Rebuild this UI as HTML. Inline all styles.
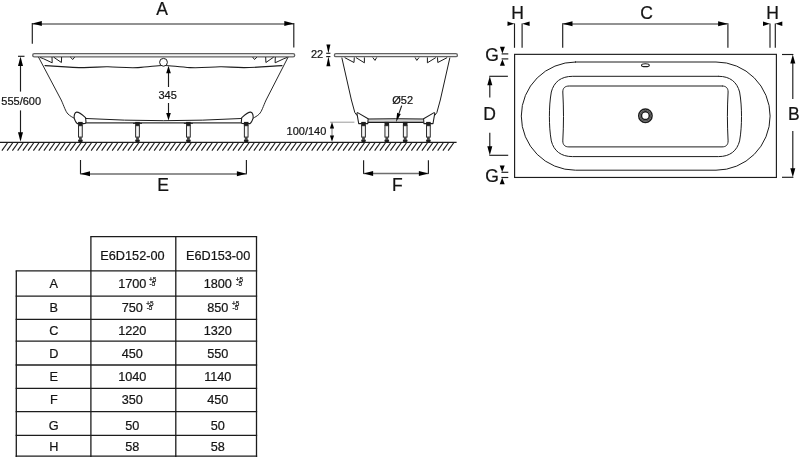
<!DOCTYPE html>
<html lang="en">
<head>
<meta charset="utf-8">
<title>E6D152-00 / E6D153-00</title>
<style>
html,body{margin:0;padding:0;background:#fff;}
body{width:800px;height:457px;overflow:hidden;}
svg{display:block;font-family:"Liberation Sans",sans-serif;fill:#111;}
svg text{fill:#141414;stroke:#141414;stroke-width:0.22px;}
svg{will-change:transform;}
</style>
</head>
<body>
<svg width="800" height="457" viewBox="0 0 800 457">
<rect x="0" y="0" width="800" height="457" fill="#fff"/>
<line x1="0.00" y1="142.35" x2="456.60" y2="142.35" stroke="#1c1c1c" stroke-width="1.2" />
<line x1="7.50" y1="142.75" x2="1.90" y2="150.55" stroke="#1c1c1c" stroke-width="1.15" />
<line x1="12.75" y1="142.75" x2="7.15" y2="150.55" stroke="#1c1c1c" stroke-width="1.15" />
<line x1="18.00" y1="142.75" x2="12.40" y2="150.55" stroke="#1c1c1c" stroke-width="1.15" />
<line x1="23.25" y1="142.75" x2="17.65" y2="150.55" stroke="#1c1c1c" stroke-width="1.15" />
<line x1="28.50" y1="142.75" x2="22.90" y2="150.55" stroke="#1c1c1c" stroke-width="1.15" />
<line x1="33.75" y1="142.75" x2="28.15" y2="150.55" stroke="#1c1c1c" stroke-width="1.15" />
<line x1="39.00" y1="142.75" x2="33.40" y2="150.55" stroke="#1c1c1c" stroke-width="1.15" />
<line x1="44.25" y1="142.75" x2="38.65" y2="150.55" stroke="#1c1c1c" stroke-width="1.15" />
<line x1="49.50" y1="142.75" x2="43.90" y2="150.55" stroke="#1c1c1c" stroke-width="1.15" />
<line x1="54.75" y1="142.75" x2="49.15" y2="150.55" stroke="#1c1c1c" stroke-width="1.15" />
<line x1="60.00" y1="142.75" x2="54.40" y2="150.55" stroke="#1c1c1c" stroke-width="1.15" />
<line x1="65.25" y1="142.75" x2="59.65" y2="150.55" stroke="#1c1c1c" stroke-width="1.15" />
<line x1="70.50" y1="142.75" x2="64.90" y2="150.55" stroke="#1c1c1c" stroke-width="1.15" />
<line x1="75.75" y1="142.75" x2="70.15" y2="150.55" stroke="#1c1c1c" stroke-width="1.15" />
<line x1="81.00" y1="142.75" x2="75.40" y2="150.55" stroke="#1c1c1c" stroke-width="1.15" />
<line x1="86.25" y1="142.75" x2="80.65" y2="150.55" stroke="#1c1c1c" stroke-width="1.15" />
<line x1="91.50" y1="142.75" x2="85.90" y2="150.55" stroke="#1c1c1c" stroke-width="1.15" />
<line x1="96.75" y1="142.75" x2="91.15" y2="150.55" stroke="#1c1c1c" stroke-width="1.15" />
<line x1="102.00" y1="142.75" x2="96.40" y2="150.55" stroke="#1c1c1c" stroke-width="1.15" />
<line x1="107.25" y1="142.75" x2="101.65" y2="150.55" stroke="#1c1c1c" stroke-width="1.15" />
<line x1="112.50" y1="142.75" x2="106.90" y2="150.55" stroke="#1c1c1c" stroke-width="1.15" />
<line x1="117.75" y1="142.75" x2="112.15" y2="150.55" stroke="#1c1c1c" stroke-width="1.15" />
<line x1="123.00" y1="142.75" x2="117.40" y2="150.55" stroke="#1c1c1c" stroke-width="1.15" />
<line x1="128.25" y1="142.75" x2="122.65" y2="150.55" stroke="#1c1c1c" stroke-width="1.15" />
<line x1="133.50" y1="142.75" x2="127.90" y2="150.55" stroke="#1c1c1c" stroke-width="1.15" />
<line x1="138.75" y1="142.75" x2="133.15" y2="150.55" stroke="#1c1c1c" stroke-width="1.15" />
<line x1="144.00" y1="142.75" x2="138.40" y2="150.55" stroke="#1c1c1c" stroke-width="1.15" />
<line x1="149.25" y1="142.75" x2="143.65" y2="150.55" stroke="#1c1c1c" stroke-width="1.15" />
<line x1="154.50" y1="142.75" x2="148.90" y2="150.55" stroke="#1c1c1c" stroke-width="1.15" />
<line x1="159.75" y1="142.75" x2="154.15" y2="150.55" stroke="#1c1c1c" stroke-width="1.15" />
<line x1="165.00" y1="142.75" x2="159.40" y2="150.55" stroke="#1c1c1c" stroke-width="1.15" />
<line x1="170.25" y1="142.75" x2="164.65" y2="150.55" stroke="#1c1c1c" stroke-width="1.15" />
<line x1="175.50" y1="142.75" x2="169.90" y2="150.55" stroke="#1c1c1c" stroke-width="1.15" />
<line x1="180.75" y1="142.75" x2="175.15" y2="150.55" stroke="#1c1c1c" stroke-width="1.15" />
<line x1="186.00" y1="142.75" x2="180.40" y2="150.55" stroke="#1c1c1c" stroke-width="1.15" />
<line x1="191.25" y1="142.75" x2="185.65" y2="150.55" stroke="#1c1c1c" stroke-width="1.15" />
<line x1="196.50" y1="142.75" x2="190.90" y2="150.55" stroke="#1c1c1c" stroke-width="1.15" />
<line x1="201.75" y1="142.75" x2="196.15" y2="150.55" stroke="#1c1c1c" stroke-width="1.15" />
<line x1="207.00" y1="142.75" x2="201.40" y2="150.55" stroke="#1c1c1c" stroke-width="1.15" />
<line x1="212.25" y1="142.75" x2="206.65" y2="150.55" stroke="#1c1c1c" stroke-width="1.15" />
<line x1="217.50" y1="142.75" x2="211.90" y2="150.55" stroke="#1c1c1c" stroke-width="1.15" />
<line x1="222.75" y1="142.75" x2="217.15" y2="150.55" stroke="#1c1c1c" stroke-width="1.15" />
<line x1="228.00" y1="142.75" x2="222.40" y2="150.55" stroke="#1c1c1c" stroke-width="1.15" />
<line x1="233.25" y1="142.75" x2="227.65" y2="150.55" stroke="#1c1c1c" stroke-width="1.15" />
<line x1="238.50" y1="142.75" x2="232.90" y2="150.55" stroke="#1c1c1c" stroke-width="1.15" />
<line x1="243.75" y1="142.75" x2="238.15" y2="150.55" stroke="#1c1c1c" stroke-width="1.15" />
<line x1="249.00" y1="142.75" x2="243.40" y2="150.55" stroke="#1c1c1c" stroke-width="1.15" />
<line x1="254.25" y1="142.75" x2="248.65" y2="150.55" stroke="#1c1c1c" stroke-width="1.15" />
<line x1="259.50" y1="142.75" x2="253.90" y2="150.55" stroke="#1c1c1c" stroke-width="1.15" />
<line x1="264.75" y1="142.75" x2="259.15" y2="150.55" stroke="#1c1c1c" stroke-width="1.15" />
<line x1="270.00" y1="142.75" x2="264.40" y2="150.55" stroke="#1c1c1c" stroke-width="1.15" />
<line x1="275.25" y1="142.75" x2="269.65" y2="150.55" stroke="#1c1c1c" stroke-width="1.15" />
<line x1="280.50" y1="142.75" x2="274.90" y2="150.55" stroke="#1c1c1c" stroke-width="1.15" />
<line x1="285.75" y1="142.75" x2="280.15" y2="150.55" stroke="#1c1c1c" stroke-width="1.15" />
<line x1="291.00" y1="142.75" x2="285.40" y2="150.55" stroke="#1c1c1c" stroke-width="1.15" />
<line x1="296.25" y1="142.75" x2="290.65" y2="150.55" stroke="#1c1c1c" stroke-width="1.15" />
<line x1="301.50" y1="142.75" x2="295.90" y2="150.55" stroke="#1c1c1c" stroke-width="1.15" />
<line x1="306.75" y1="142.75" x2="301.15" y2="150.55" stroke="#1c1c1c" stroke-width="1.15" />
<line x1="312.00" y1="142.75" x2="306.40" y2="150.55" stroke="#1c1c1c" stroke-width="1.15" />
<line x1="317.25" y1="142.75" x2="311.65" y2="150.55" stroke="#1c1c1c" stroke-width="1.15" />
<line x1="322.50" y1="142.75" x2="316.90" y2="150.55" stroke="#1c1c1c" stroke-width="1.15" />
<line x1="327.75" y1="142.75" x2="322.15" y2="150.55" stroke="#1c1c1c" stroke-width="1.15" />
<line x1="333.00" y1="142.75" x2="327.40" y2="150.55" stroke="#1c1c1c" stroke-width="1.15" />
<line x1="338.25" y1="142.75" x2="332.65" y2="150.55" stroke="#1c1c1c" stroke-width="1.15" />
<line x1="343.50" y1="142.75" x2="337.90" y2="150.55" stroke="#1c1c1c" stroke-width="1.15" />
<line x1="348.75" y1="142.75" x2="343.15" y2="150.55" stroke="#1c1c1c" stroke-width="1.15" />
<line x1="354.00" y1="142.75" x2="348.40" y2="150.55" stroke="#1c1c1c" stroke-width="1.15" />
<line x1="359.25" y1="142.75" x2="353.65" y2="150.55" stroke="#1c1c1c" stroke-width="1.15" />
<line x1="364.50" y1="142.75" x2="358.90" y2="150.55" stroke="#1c1c1c" stroke-width="1.15" />
<line x1="369.75" y1="142.75" x2="364.15" y2="150.55" stroke="#1c1c1c" stroke-width="1.15" />
<line x1="375.00" y1="142.75" x2="369.40" y2="150.55" stroke="#1c1c1c" stroke-width="1.15" />
<line x1="380.25" y1="142.75" x2="374.65" y2="150.55" stroke="#1c1c1c" stroke-width="1.15" />
<line x1="385.50" y1="142.75" x2="379.90" y2="150.55" stroke="#1c1c1c" stroke-width="1.15" />
<line x1="390.75" y1="142.75" x2="385.15" y2="150.55" stroke="#1c1c1c" stroke-width="1.15" />
<line x1="396.00" y1="142.75" x2="390.40" y2="150.55" stroke="#1c1c1c" stroke-width="1.15" />
<line x1="401.25" y1="142.75" x2="395.65" y2="150.55" stroke="#1c1c1c" stroke-width="1.15" />
<line x1="406.50" y1="142.75" x2="400.90" y2="150.55" stroke="#1c1c1c" stroke-width="1.15" />
<line x1="411.75" y1="142.75" x2="406.15" y2="150.55" stroke="#1c1c1c" stroke-width="1.15" />
<line x1="417.00" y1="142.75" x2="411.40" y2="150.55" stroke="#1c1c1c" stroke-width="1.15" />
<line x1="422.25" y1="142.75" x2="416.65" y2="150.55" stroke="#1c1c1c" stroke-width="1.15" />
<line x1="427.50" y1="142.75" x2="421.90" y2="150.55" stroke="#1c1c1c" stroke-width="1.15" />
<line x1="432.75" y1="142.75" x2="427.15" y2="150.55" stroke="#1c1c1c" stroke-width="1.15" />
<line x1="438.00" y1="142.75" x2="432.40" y2="150.55" stroke="#1c1c1c" stroke-width="1.15" />
<line x1="443.25" y1="142.75" x2="437.65" y2="150.55" stroke="#1c1c1c" stroke-width="1.15" />
<line x1="448.50" y1="142.75" x2="442.90" y2="150.55" stroke="#1c1c1c" stroke-width="1.15" />
<line x1="453.75" y1="142.75" x2="448.15" y2="150.55" stroke="#1c1c1c" stroke-width="1.15" />
<line x1="32.30" y1="23.90" x2="293.80" y2="23.90" stroke="#6e6e6e" stroke-width="1.5" />
<line x1="32.30" y1="23.00" x2="32.30" y2="43.80" stroke="#1c1c1c" stroke-width="1.15" />
<line x1="293.80" y1="23.00" x2="293.80" y2="47.40" stroke="#1c1c1c" stroke-width="1.15" />
<polygon points="32.30,23.50 41.80,21.00 41.80,26.00" fill="#000"/>
<polygon points="293.80,23.50 284.30,26.00 284.30,21.00" fill="#000"/>
<text x="162.10" y="15.00" font-size="17.5" text-anchor="middle" >A</text>
<rect x="32.7" y="53.6" width="262.0" height="3.2" rx="1.6" ry="1.6" fill="#f3f3f3" stroke="#636363" stroke-width="1.35"/>
<path d="M40.5 57.6 L43.4 58.7 L52.2 62.8 L52 57.4 M54 57.4 L61.4 62.5 L61.6 57.4 M70.6 57.4 L72.8 59.5 L74.4 57.4" stroke="#1c1c1c" stroke-width="1.0" fill="none" stroke-linejoin="round" stroke-linecap="round" />
<path d="M286.8 57.6 L283.9 58.7 L275.1 62.8 L275.3 57.4 M273.3 57.4 L265.9 62.5 L265.7 57.4 M256.7 57.4 L254.5 59.5 L252.9 57.4" stroke="#1c1c1c" stroke-width="1.0" fill="none" stroke-linejoin="round" stroke-linecap="round" />
<path d="M38.6 57.3 L61.2 100 C64 106 65.5 111.5 68 114 C70 116 72.5 117.3 74.2 118.2" stroke="#1c1c1c" stroke-width="0.95" fill="none" stroke-linejoin="round" stroke-linecap="round" />
<path d="M288.0 57.3 L266.1 100 C263.3 106 261.8 111.5 259.3 114 C257.3 116 254.8 117.3 253.1 118.2" stroke="#1c1c1c" stroke-width="0.95" fill="none" stroke-linejoin="round" stroke-linecap="round" />
<path d="M74.2 118.2 C73.9 115.5 74.6 112.3 76.6 112.1 C79.3 111.9 82.6 115 85.6 117.7 L86 122.2 C86 123.3 85 123.6 83.6 123.6 L77.2 123.6 C76 123 75 120.8 74.2 118.2 Z" stroke="#1c1c1c" stroke-width="1.1" fill="#fff" stroke-linejoin="round" stroke-linecap="round" />
<path d="M253.1 118.2 C253.4 115.5 252.7 112.3 250.7 112.1 C248 111.9 244.7 115 241.7 117.7 L241.3 122.2 C241.3 123.3 242.3 123.6 243.7 123.6 L250.1 123.6 C251.3 123 252.3 120.8 253.1 118.2 Z" stroke="#1c1c1c" stroke-width="1.1" fill="#fff" stroke-linejoin="round" stroke-linecap="round" />
<path d="M85.8 118.5 Q163.65 122.9 241.5 118.5" stroke="#1c1c1c" stroke-width="1.0" fill="none" stroke-linejoin="round" stroke-linecap="round" />
<line x1="85.50" y1="122.90" x2="241.80" y2="122.90" stroke="#333" stroke-width="1.3" />
<path d="M45 65.6 C55 66 70 67.6 84 67.6 C95 67.6 100 66.6 108 66.8 C118 67 128 68.2 138 67.6 C148 67 156 65.6 163.6 65.2 C171 65.6 180 67 190 67.6 C200 68.2 210 67 220 66.8 C228 66.6 233 67.6 244 67.6 C258 67.6 272 66 282 65.6" stroke="#1c1c1c" stroke-width="1.1" fill="none" stroke-linejoin="round" stroke-linecap="round" />
<circle cx="163.5" cy="62.3" r="3.9" fill="#fff" stroke="#1c1c1c" stroke-width="1.0"/>
<line x1="168.50" y1="70.00" x2="168.50" y2="87.00" stroke="#1c1c1c" stroke-width="1.15" />
<line x1="168.50" y1="103.00" x2="168.50" y2="116.00" stroke="#1c1c1c" stroke-width="1.15" />
<polygon points="168.50,65.80 170.80,73.30 166.20,73.30" fill="#000"/>
<polygon points="168.50,120.60 166.20,113.10 170.80,113.10" fill="#000"/>
<text x="167.60" y="98.90" font-size="11" text-anchor="middle" >345</text>
<line x1="18.00" y1="56.30" x2="24.50" y2="56.30" stroke="#1c1c1c" stroke-width="1.15" />
<line x1="20.50" y1="60.00" x2="20.50" y2="91.60" stroke="#1c1c1c" stroke-width="1.15" />
<line x1="20.50" y1="110.40" x2="20.50" y2="136.00" stroke="#1c1c1c" stroke-width="1.15" />
<polygon points="20.50,56.60 23.00,66.10 18.00,66.10" fill="#000"/>
<polygon points="20.50,141.80 18.00,132.30 23.00,132.30" fill="#000"/>
<text x="21.20" y="105.20" font-size="11" text-anchor="middle" >555/600</text>
<rect x="78.10" y="121.90" width="4.6" height="4.0" fill="#1e1e1e"/>
<rect x="78.55" y="125.70" width="3.7" height="11.4" fill="#f6f6f6" stroke="#1e1e1e" stroke-width="0.95"/>
<rect x="79.00" y="137.10" width="2.8" height="2.6" fill="#444"/>
<rect x="78.10" y="139.40" width="4.6" height="2.5" rx="0.9" fill="#1e1e1e"/>
<rect x="135.20" y="121.90" width="4.6" height="4.0" fill="#1e1e1e"/>
<rect x="135.65" y="125.70" width="3.7" height="11.4" fill="#f6f6f6" stroke="#1e1e1e" stroke-width="0.95"/>
<rect x="136.10" y="137.10" width="2.8" height="2.6" fill="#444"/>
<rect x="135.20" y="139.40" width="4.6" height="2.5" rx="0.9" fill="#1e1e1e"/>
<rect x="186.10" y="121.90" width="4.6" height="4.0" fill="#1e1e1e"/>
<rect x="186.55" y="125.70" width="3.7" height="11.4" fill="#f6f6f6" stroke="#1e1e1e" stroke-width="0.95"/>
<rect x="187.00" y="137.10" width="2.8" height="2.6" fill="#444"/>
<rect x="186.10" y="139.40" width="4.6" height="2.5" rx="0.9" fill="#1e1e1e"/>
<rect x="243.90" y="121.90" width="4.6" height="4.0" fill="#1e1e1e"/>
<rect x="244.35" y="125.70" width="3.7" height="11.4" fill="#f6f6f6" stroke="#1e1e1e" stroke-width="0.95"/>
<rect x="244.80" y="137.10" width="2.8" height="2.6" fill="#444"/>
<rect x="243.90" y="139.40" width="4.6" height="2.5" rx="0.9" fill="#1e1e1e"/>
<line x1="133.00" y1="123.40" x2="142.00" y2="123.40" stroke="#1c1c1c" stroke-width="0.9" />
<line x1="183.90" y1="123.40" x2="192.90" y2="123.40" stroke="#1c1c1c" stroke-width="0.9" />
<line x1="80.50" y1="160.00" x2="80.50" y2="174.20" stroke="#1c1c1c" stroke-width="1.15" />
<line x1="246.40" y1="160.00" x2="246.40" y2="174.20" stroke="#1c1c1c" stroke-width="1.15" />
<line x1="80.50" y1="173.90" x2="246.40" y2="173.90" stroke="#6e6e6e" stroke-width="1.5" />
<polygon points="80.50,173.70 90.00,171.20 90.00,176.20" fill="#000"/>
<polygon points="246.40,173.70 236.90,176.20 236.90,171.20" fill="#000"/>
<text x="163.00" y="190.60" font-size="17.5" text-anchor="middle" >E</text>
<text x="311.00" y="58.40" font-size="11" text-anchor="start" >22</text>
<line x1="326.20" y1="53.30" x2="330.40" y2="53.30" stroke="#1c1c1c" stroke-width="1.15" />
<line x1="326.20" y1="56.60" x2="330.40" y2="56.60" stroke="#1c1c1c" stroke-width="1.15" />
<polygon points="328.40,53.30 326.40,44.40 330.40,44.40" fill="#000"/>
<polygon points="328.40,56.60 330.40,66.20 326.40,66.20" fill="#000"/>
<rect x="334.4" y="53.6" width="123.0" height="3.1" rx="1.55" ry="1.55" fill="#f3f3f3" stroke="#636363" stroke-width="1.35"/>
<path d="M345 57.8 L354 62.5 L354.3 57.8 M356.3 57.8 L364.4 62.8 L364.4 57.8 M373 57.8 L375 60.4 L376.5 57.8" stroke="#1c1c1c" stroke-width="1.0" fill="none" stroke-linejoin="round" stroke-linecap="round" />
<path d="M446.8 57.8 L437.8 62.5 L437.5 57.8 M435.5 57.8 L427.4 62.8 L427.4 57.8 M418.8 57.8 L416.8 60.4 L415.3 57.8" stroke="#1c1c1c" stroke-width="1.0" fill="none" stroke-linejoin="round" stroke-linecap="round" />
<path d="M341.9 58 L351.4 100 L354.85 112.6 L356.9 115.3" stroke="#1c1c1c" stroke-width="1.0" fill="none" stroke-linejoin="round" stroke-linecap="round" />
<path d="M449.8 58 L440.3 100 L436.85 112.6 L434.8 115.3" stroke="#1c1c1c" stroke-width="1.0" fill="none" stroke-linejoin="round" stroke-linecap="round" />
<rect x="368.1" y="119.1" width="55.5" height="3.2" fill="#d2d2d2"/>
<path d="M368.1 119.0 Q395.85 118.4 423.6 119.0" stroke="#1c1c1c" stroke-width="1.0" fill="none" stroke-linejoin="round" stroke-linecap="round" />
<line x1="367.90" y1="122.40" x2="423.80" y2="122.40" stroke="#1c1c1c" stroke-width="1.3" />
<path d="M356.9 113.1 L357.6 112.6 L368.1 118.7 L367.8 123.6 L358.7 123.6 Z" stroke="#1c1c1c" stroke-width="1.05" fill="#fff" stroke-linejoin="round" stroke-linecap="round" />
<path d="M434.8 113.1 L434.1 112.6 L423.6 118.7 L423.9 123.6 L433.0 123.6 Z" stroke="#1c1c1c" stroke-width="1.05" fill="#fff" stroke-linejoin="round" stroke-linecap="round" />
<rect x="361.20" y="121.90" width="4.6" height="4.0" fill="#1e1e1e"/>
<rect x="361.65" y="125.70" width="3.7" height="11.4" fill="#f6f6f6" stroke="#1e1e1e" stroke-width="0.95"/>
<rect x="362.10" y="137.10" width="2.8" height="2.6" fill="#444"/>
<rect x="361.20" y="139.40" width="4.6" height="2.5" rx="0.9" fill="#1e1e1e"/>
<rect x="384.50" y="121.90" width="4.6" height="4.0" fill="#1e1e1e"/>
<rect x="384.95" y="125.70" width="3.7" height="11.4" fill="#f6f6f6" stroke="#1e1e1e" stroke-width="0.95"/>
<rect x="385.40" y="137.10" width="2.8" height="2.6" fill="#444"/>
<rect x="384.50" y="139.40" width="4.6" height="2.5" rx="0.9" fill="#1e1e1e"/>
<rect x="402.90" y="121.90" width="4.6" height="4.0" fill="#1e1e1e"/>
<rect x="403.35" y="125.70" width="3.7" height="11.4" fill="#f6f6f6" stroke="#1e1e1e" stroke-width="0.95"/>
<rect x="403.80" y="137.10" width="2.8" height="2.6" fill="#444"/>
<rect x="402.90" y="139.40" width="4.6" height="2.5" rx="0.9" fill="#1e1e1e"/>
<rect x="426.10" y="121.90" width="4.6" height="4.0" fill="#1e1e1e"/>
<rect x="426.55" y="125.70" width="3.7" height="11.4" fill="#f6f6f6" stroke="#1e1e1e" stroke-width="0.95"/>
<rect x="427.00" y="137.10" width="2.8" height="2.6" fill="#444"/>
<rect x="426.10" y="139.40" width="4.6" height="2.5" rx="0.9" fill="#1e1e1e"/>
<text x="392.30" y="104.40" font-size="11" text-anchor="start" >Ø52</text>
<line x1="401.70" y1="105.60" x2="399.00" y2="113.40" stroke="#1c1c1c" stroke-width="1.15" />
<polygon points="396.10,121.90 397.14,112.76 400.75,113.96" fill="#000"/>
<text x="286.60" y="134.80" font-size="11" text-anchor="start" >100/140</text>
<line x1="330.00" y1="122.20" x2="354.40" y2="122.20" stroke="#9a9a9a" stroke-width="1.0" />
<line x1="332.00" y1="126.00" x2="332.00" y2="138.00" stroke="#777" stroke-width="1.0" />
<polygon points="332.00,122.00 334.10,128.60 329.90,128.60" fill="#000"/>
<polygon points="332.00,141.80 329.90,135.60 334.10,135.60" fill="#000"/>
<line x1="363.60" y1="160.30" x2="363.60" y2="174.00" stroke="#1c1c1c" stroke-width="1.15" />
<line x1="428.40" y1="160.30" x2="428.40" y2="174.00" stroke="#1c1c1c" stroke-width="1.15" />
<line x1="363.60" y1="173.60" x2="428.40" y2="173.60" stroke="#6e6e6e" stroke-width="1.5" />
<polygon points="363.60,173.40 373.10,170.90 373.10,175.90" fill="#000"/>
<polygon points="428.40,173.40 418.90,175.90 418.90,170.90" fill="#000"/>
<text x="397.30" y="190.60" font-size="17.5" text-anchor="middle" >F</text>
<rect x="514.6" y="54.35" width="261.8" height="123.1" fill="none" stroke="#1c1c1c" stroke-width="1.15"/>
<path d="M575.4 62 L716 62 A54.1 54.1 0 0 1 716 170.2 L575.4 170.2 A54.1 54.1 0 0 1 575.4 62 Z" stroke="#1c1c1c" stroke-width="1.0" fill="none" stroke-linejoin="round" stroke-linecap="round" />
<path d="M718.50 76.30 L718.50 76.30 C730.00 76.30 737.00 82.00 739.60 92.00 C741.00 100.00 741.50 108.00 741.50 116.45 L741.50 116.45 C741.50 124.90 741.00 132.90 739.60 140.90 C737.00 150.90 730.00 156.60 718.50 156.60 L572.40 156.60 C560.90 156.60 553.90 150.90 551.30 140.90 C549.90 132.90 549.40 124.90 549.40 116.45 L549.40 116.45 C549.40 108.00 549.90 100.00 551.30 92.00 C553.90 82.00 560.90 76.30 572.40 76.30 Z" stroke="#1c1c1c" stroke-width="1.0" fill="none" stroke-linejoin="round" stroke-linecap="round" />
<path d="M722.00 86.00 L722.00 86.00 C726.00 86.00 728.10 88.00 728.10 92.00 C727.70 100.00 727.40 108.00 727.40 116.45 L727.40 116.45 C727.40 124.90 727.70 132.90 728.10 140.90 C728.10 144.90 726.00 146.90 722.00 146.90 L568.90 146.90 C564.90 146.90 562.80 144.90 562.80 140.90 C563.20 132.90 563.50 124.90 563.50 116.45 L563.50 116.45 C563.50 108.00 563.20 100.00 562.80 92.00 C562.80 88.00 564.90 86.00 568.90 86.00 Z" stroke="#1c1c1c" stroke-width="1.0" fill="none" stroke-linejoin="round" stroke-linecap="round" />
<ellipse cx="645.4" cy="65.2" rx="3.9" ry="1.45" fill="#fff" stroke="#1c1c1c" stroke-width="1.1"/>
<circle cx="645.4" cy="115.7" r="6.7" fill="#ddd" stroke="#1c1c1c" stroke-width="1.5"/>
<circle cx="645.4" cy="115.7" r="5.3" fill="none" stroke="#555" stroke-width="1.3"/>
<circle cx="645.4" cy="115.7" r="3.9" fill="#fff" stroke="#1c1c1c" stroke-width="1.5"/>
<line x1="562.70" y1="23.20" x2="562.70" y2="47.80" stroke="#1c1c1c" stroke-width="1.15" />
<line x1="727.90" y1="23.20" x2="727.90" y2="47.80" stroke="#1c1c1c" stroke-width="1.15" />
<line x1="562.70" y1="24.10" x2="727.90" y2="24.10" stroke="#6e6e6e" stroke-width="1.5" />
<polygon points="562.70,23.70 572.50,21.20 572.50,26.20" fill="#000"/>
<polygon points="727.90,23.70 718.10,26.20 718.10,21.20" fill="#000"/>
<text x="646.50" y="18.80" font-size="17.5" text-anchor="middle" >C</text>
<line x1="514.50" y1="23.40" x2="514.50" y2="47.80" stroke="#1c1c1c" stroke-width="1.15" />
<line x1="522.10" y1="23.40" x2="522.10" y2="47.80" stroke="#1c1c1c" stroke-width="1.15" />
<polygon points="514.50,23.70 507.50,25.90 507.50,21.50" fill="#000"/>
<polygon points="522.10,23.70 529.60,21.50 529.60,25.90" fill="#000"/>
<text x="517.50" y="18.50" font-size="17.5" text-anchor="middle" >H</text>
<line x1="770.00" y1="23.40" x2="770.00" y2="47.80" stroke="#1c1c1c" stroke-width="1.15" />
<line x1="775.30" y1="23.40" x2="775.30" y2="47.80" stroke="#1c1c1c" stroke-width="1.15" />
<polygon points="770.00,23.70 763.00,25.90 763.00,21.50" fill="#000"/>
<polygon points="775.30,23.70 782.30,21.50 782.30,25.90" fill="#000"/>
<text x="772.50" y="18.50" font-size="17.5" text-anchor="middle" >H</text>
<text x="485.20" y="60.80" font-size="17.5" text-anchor="start" >G</text>
<line x1="501.60" y1="53.90" x2="508.30" y2="53.90" stroke="#1c1c1c" stroke-width="1.15" />
<line x1="501.60" y1="58.90" x2="508.30" y2="58.90" stroke="#1c1c1c" stroke-width="1.15" />
<polygon points="502.40,53.60 499.90,46.80 504.90,46.80" fill="#000"/>
<polygon points="502.40,59.20 504.90,65.70 499.90,65.70" fill="#000"/>
<text x="485.20" y="182.30" font-size="17.5" text-anchor="start" >G</text>
<line x1="501.40" y1="172.30" x2="508.30" y2="172.30" stroke="#1c1c1c" stroke-width="1.15" />
<line x1="501.40" y1="177.50" x2="508.30" y2="177.50" stroke="#1c1c1c" stroke-width="1.15" />
<polygon points="502.20,172.00 499.70,165.40 504.70,165.40" fill="#000"/>
<polygon points="502.20,177.80 504.70,184.30 499.70,184.30" fill="#000"/>
<line x1="489.30" y1="76.30" x2="507.90" y2="76.30" stroke="#1c1c1c" stroke-width="1.15" />
<line x1="489.30" y1="155.30" x2="508.20" y2="155.30" stroke="#1c1c1c" stroke-width="1.15" />
<line x1="489.80" y1="80.00" x2="489.80" y2="97.40" stroke="#1c1c1c" stroke-width="1.15" />
<line x1="489.80" y1="132.80" x2="489.80" y2="150.00" stroke="#1c1c1c" stroke-width="1.15" />
<polygon points="489.80,76.30 492.30,85.30 487.30,85.30" fill="#000"/>
<polygon points="489.80,155.30 487.30,146.30 492.30,146.30" fill="#000"/>
<text x="489.60" y="120.30" font-size="17.5" text-anchor="middle" >D</text>
<line x1="782.00" y1="54.50" x2="793.40" y2="54.50" stroke="#1c1c1c" stroke-width="1.15" />
<line x1="782.00" y1="177.30" x2="793.40" y2="177.30" stroke="#1c1c1c" stroke-width="1.15" />
<line x1="792.80" y1="60.00" x2="792.80" y2="99.00" stroke="#1c1c1c" stroke-width="1.15" />
<line x1="792.80" y1="131.00" x2="792.80" y2="172.00" stroke="#1c1c1c" stroke-width="1.15" />
<polygon points="792.80,54.50 795.30,63.50 790.30,63.50" fill="#000"/>
<polygon points="792.80,177.30 790.30,168.30 795.30,168.30" fill="#000"/>
<text x="793.80" y="119.80" font-size="17.5" text-anchor="middle" >B</text>
<line x1="90.25" y1="236.70" x2="257.15" y2="236.70" stroke="#1c1c1c" stroke-width="1.3" />
<line x1="15.65" y1="270.85" x2="257.15" y2="270.85" stroke="#1c1c1c" stroke-width="1.3" />
<line x1="15.65" y1="296.15" x2="257.15" y2="296.15" stroke="#1c1c1c" stroke-width="1.3" />
<line x1="15.65" y1="319.30" x2="257.15" y2="319.30" stroke="#1c1c1c" stroke-width="1.3" />
<line x1="15.65" y1="341.05" x2="257.15" y2="341.05" stroke="#1c1c1c" stroke-width="1.3" />
<line x1="15.65" y1="365.00" x2="257.15" y2="365.00" stroke="#1c1c1c" stroke-width="1.3" />
<line x1="15.65" y1="388.40" x2="257.15" y2="388.40" stroke="#1c1c1c" stroke-width="1.3" />
<line x1="15.65" y1="411.60" x2="257.15" y2="411.60" stroke="#1c1c1c" stroke-width="1.3" />
<line x1="15.65" y1="435.30" x2="257.15" y2="435.30" stroke="#1c1c1c" stroke-width="1.3" />
<line x1="15.65" y1="456.20" x2="257.15" y2="456.20" stroke="#1c1c1c" stroke-width="1.3" />
<line x1="16.30" y1="270.85" x2="16.30" y2="457.00" stroke="#1c1c1c" stroke-width="1.3" />
<line x1="90.90" y1="236.70" x2="90.90" y2="457.00" stroke="#1c1c1c" stroke-width="1.3" />
<line x1="175.80" y1="236.70" x2="175.80" y2="457.00" stroke="#1c1c1c" stroke-width="1.3" />
<line x1="256.50" y1="236.70" x2="256.50" y2="457.00" stroke="#1c1c1c" stroke-width="1.3" />
<text x="132.45" y="259.50" font-size="12.7" text-anchor="middle" >E6D152-00</text>
<text x="218.10" y="259.50" font-size="12.7" text-anchor="middle" >E6D153-00</text>
<text x="53.80" y="288.20" font-size="12.7" text-anchor="middle" >A</text>
<text x="132.30" y="288.20" font-size="12.7" text-anchor="middle" >1700</text>
<text x="217.80" y="288.20" font-size="12.7" text-anchor="middle" >1800</text>
<text x="53.80" y="311.90" font-size="12.7" text-anchor="middle" >B</text>
<text x="132.30" y="311.90" font-size="12.7" text-anchor="middle" >750</text>
<text x="217.80" y="311.90" font-size="12.7" text-anchor="middle" >850</text>
<text x="53.80" y="334.80" font-size="12.7" text-anchor="middle" >C</text>
<text x="132.30" y="334.80" font-size="12.7" text-anchor="middle" >1220</text>
<text x="217.80" y="334.80" font-size="12.7" text-anchor="middle" >1320</text>
<text x="53.80" y="358.30" font-size="12.7" text-anchor="middle" >D</text>
<text x="132.30" y="358.30" font-size="12.7" text-anchor="middle" >450</text>
<text x="217.80" y="358.30" font-size="12.7" text-anchor="middle" >550</text>
<text x="53.80" y="381.40" font-size="12.7" text-anchor="middle" >E</text>
<text x="132.30" y="381.40" font-size="12.7" text-anchor="middle" >1040</text>
<text x="217.80" y="381.40" font-size="12.7" text-anchor="middle" >1140</text>
<text x="53.80" y="404.10" font-size="12.7" text-anchor="middle" >F</text>
<text x="132.30" y="404.10" font-size="12.7" text-anchor="middle" >350</text>
<text x="217.80" y="404.10" font-size="12.7" text-anchor="middle" >450</text>
<text x="53.80" y="430.00" font-size="12.7" text-anchor="middle" >G</text>
<text x="132.30" y="430.00" font-size="12.7" text-anchor="middle" >50</text>
<text x="217.80" y="430.00" font-size="12.7" text-anchor="middle" >50</text>
<text x="53.80" y="450.75" font-size="12.7" text-anchor="middle" >H</text>
<text x="132.30" y="450.75" font-size="12.7" text-anchor="middle" >58</text>
<text x="217.80" y="450.75" font-size="12.7" text-anchor="middle" >58</text>
<text x="149.00" y="281.80" font-size="6.4" text-anchor="start" stroke="#141414" stroke-width="0.2">+5</text>
<text x="149.50" y="286.40" font-size="6.4" text-anchor="start" stroke="#141414" stroke-width="0.2">-5</text>
<text x="146.20" y="305.50" font-size="6.4" text-anchor="start" stroke="#141414" stroke-width="0.2">+5</text>
<text x="146.70" y="310.10" font-size="6.4" text-anchor="start" stroke="#141414" stroke-width="0.2">-5</text>
<text x="235.80" y="281.80" font-size="6.4" text-anchor="start" stroke="#141414" stroke-width="0.2">+5</text>
<text x="236.30" y="286.40" font-size="6.4" text-anchor="start" stroke="#141414" stroke-width="0.2">-5</text>
<text x="232.00" y="305.50" font-size="6.4" text-anchor="start" stroke="#141414" stroke-width="0.2">+5</text>
<text x="232.50" y="310.10" font-size="6.4" text-anchor="start" stroke="#141414" stroke-width="0.2">-5</text>
</svg>
</body>
</html>
